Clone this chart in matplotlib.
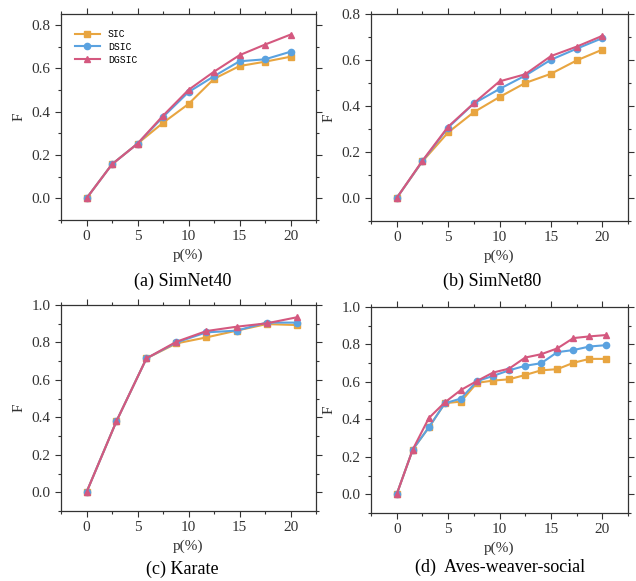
import numpy as np
import matplotlib
matplotlib.use("Agg")
import matplotlib.pyplot as plt
from matplotlib.ticker import MultipleLocator, FormatStrFormatter

# series names
names = ["SIC", "DSIC", "DGSIC"]

# (a) SimNet40
x_a = [0, 2.5, 5, 7.5, 10, 12.5, 15, 17.5, 20]
sic_a = [0, 0.157, 0.252, 0.348, 0.435, 0.551, 0.610, 0.630, 0.653]
dsic_a = [0, 0.157, 0.252, 0.375, 0.490, 0.563, 0.632, 0.641, 0.676]
dgsic_a = [0, 0.157, 0.252, 0.381, 0.500, 0.584, 0.660, 0.709, 0.755]

# (b) SimNet80
x_b = [0, 2.5, 5, 7.5, 10, 12.5, 15, 17.5, 20]
sic_b = [0, 0.159, 0.285, 0.373, 0.439, 0.500, 0.540, 0.598, 0.645]
dsic_b = [0, 0.160, 0.306, 0.411, 0.474, 0.532, 0.601, 0.649, 0.695]
dgsic_b = [0, 0.162, 0.310, 0.412, 0.507, 0.538, 0.617, 0.658, 0.705]

# (c) Karate
x_c = [0, 2.94, 5.88, 8.82, 11.76, 14.71, 17.65, 20.59]
sic_c = [0, 0.380, 0.715, 0.795, 0.827, 0.863, 0.898, 0.893]
dsic_c = [0, 0.380, 0.715, 0.800, 0.854, 0.863, 0.906, 0.906]
dgsic_c = [0, 0.380, 0.715, 0.804, 0.861, 0.884, 0.902, 0.934]

# (d) Aves-weaver-social
x_d = [0, 1.5625, 3.125, 4.6875, 6.25, 7.8125, 9.375, 10.9375, 12.5,
       14.0625, 15.625, 17.1875, 18.75, 20.3125]
sic_d = [0, 0.239, 0.357, 0.486, 0.495, 0.595, 0.607, 0.614, 0.637,
         0.662, 0.668, 0.702, 0.723, 0.723]
dsic_d = [0, 0.239, 0.357, 0.486, 0.511, 0.604, 0.632, 0.662, 0.686,
          0.700, 0.759, 0.770, 0.789, 0.796]
dgsic_d = [0, 0.239, 0.407, 0.491, 0.557, 0.605, 0.650, 0.671, 0.730,
           0.748, 0.779, 0.834, 0.843, 0.850]

captions = ["(a) SimNet40", "(b) SimNet80", "(c) Karate", "(d)  Aves-weaver-social"]

colors = ["#E8A540", "#5AA2E0", "#D4587F"]
markers = ["s", "o", "^"]

plt.rcParams['font.family'] = 'serif'
plt.rcParams['font.serif'] = ['Liberation Serif', 'DejaVu Serif']

fig = plt.figure(figsize=(6.36, 5.81), dpi=100)

# axes boxes in pixels (left, top, right, bottom)
boxes = [(61, 14, 316, 220), (371, 14, 628, 221), (61, 305, 316, 511), (371, 307, 628, 513)]
data = [(x_a, [sic_a, dsic_a, dgsic_a], (-0.1, 0.85)),
        (x_b, [sic_b, dsic_b, dgsic_b], (-0.1, 0.8)),
        (x_c, [sic_c, dsic_c, dgsic_c], (-0.1, 1.0)),
        (x_d, [sic_d, dsic_d, dgsic_d], (-0.1, 1.0))]
cap_pos = [(183, 281), (492, 281), (182, 569), (500, 567)]

W, H = 636.0, 581.0
for i, (box, (xs, ys, ylim)) in enumerate(zip(boxes, data)):
    l, t, r, b = box
    ax = fig.add_axes([l / W, 1 - b / H, (r - l) / W, (b - t) / H])
    for k in range(3):
        ax.plot(xs, ys[k], color=colors[k], marker=markers[k], markersize=4.5,
                linewidth=1.5, label=names[k])
    ax.set_xlim(-2.5, 22.5)
    ax.set_ylim(*ylim)
    ax.xaxis.set_major_locator(MultipleLocator(5))
    ax.xaxis.set_minor_locator(MultipleLocator(2.5))
    ax.yaxis.set_major_locator(MultipleLocator(0.2))
    ax.yaxis.set_minor_locator(MultipleLocator(0.1))
    ax.yaxis.set_major_formatter(FormatStrFormatter('%.1f'))
    ax.tick_params(which='both', direction='out', top=True, right=True, labelsize=11, colors='#333333')
    ax.tick_params(which='major', length=4, width=0.8)
    ax.tick_params(which='minor', length=2, width=0.8)
    for s in ax.spines.values():
        s.set_linewidth(0.9)
        s.set_color('#333333')
    ax.set_xlabel('p(%)', fontsize=11, color='#333333', labelpad=4)
    ax.set_ylabel('F', fontsize=11, color='#333333', labelpad=4)
    cx, cy = cap_pos[i]
    fig.text(cx / W, 1 - cy / H, captions[i], ha='center', va='center', fontsize=13)
    if i == 0:
        ax.legend(loc='upper left', frameon=False, prop={'family': 'Liberation Mono', 'size': 7},
                  handlelength=2.6, labelspacing=0.3, bbox_to_anchor=(0.02, 0.97))

plt.savefig("out.png", dpi=100)
